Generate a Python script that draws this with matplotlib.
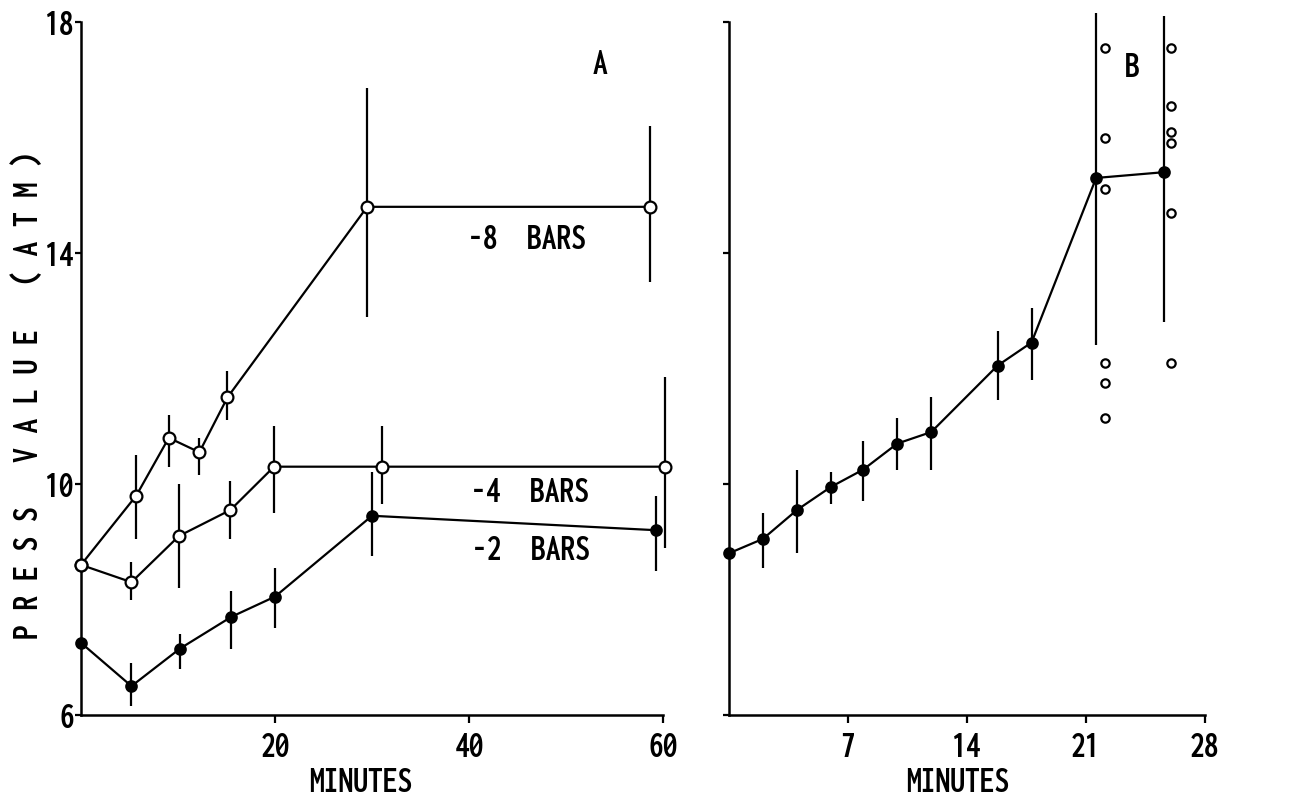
import matplotlib
matplotlib.use("Agg")
import matplotlib.pyplot as plt
from matplotlib import font_manager as fm
from matplotlib.textpath import TextPath

# pick a bold condensed face whose capitals are about as narrow as the scan's
def _w(f):
    return f.weight if isinstance(f.weight, int) else fm.weight_dict.get(f.weight, 400)

def _narrow(f):
    return ('Narrow' in f.name or 'Condensed' in f.name
            or f.stretch in ('condensed', 'semi-condensed', 'extra-condensed', 'ultra-condensed'))

def _shape(fname):
    p = fm.FontProperties(fname=fname, size=100)
    w = TextPath((0, 0), 'BRS8', prop=p).get_extents().width / 4
    h = TextPath((0, 0), 'H', prop=p).get_extents().height
    return w / h, h / 100.0

fonts = fm.fontManager.ttflist
cands = [f for f in fonts if _narrow(f) and 700 <= _w(f) <= 800 and f.style == 'normal']
scored = []
for f in cands:
    try:
        r = _shape(f.fname)[0]
        scored.append((abs(r - 0.62) + 0.001 * abs(_w(f) - 700), f.fname))
    except Exception:
        pass
if scored:
    FONT_FILE = min(scored)[1]
else:
    FONT_FILE = fm.findfont(fm.FontProperties(family='DejaVu Sans', weight='bold'))
CAP = _shape(FONT_FILE)[1]          # cap height per point of font size
FS = 23.0 / CAP * 72 / 100          # about 23 px capitals


def fp():
    return fm.FontProperties(fname=FONT_FILE, size=FS)


# Panel A: press value vs time at three water potentials
a8_x = [0, 5.7, 9.05, 12.2, 15.1, 29.5, 58.7]
a8_y = [8.6, 9.8, 10.8, 10.55, 11.5, 14.8, 14.8]
a8_lo = [8.6, 9.05, 10.3, 10.15, 11.1, 12.9, 13.5]
a8_hi = [8.6, 10.5, 11.2, 10.8, 11.95, 16.85, 16.2]

a4_x = [0, 5.2, 10.1, 15.4, 19.9, 31.0, 60.2]
a4_y = [8.6, 8.3, 9.1, 9.55, 10.3, 10.3, 10.3]
a4_lo = [8.6, 8.0, 8.2, 9.05, 9.5, 9.65, 8.9]
a4_hi = [8.6, 8.65, 10.0, 10.05, 11.0, 11.0, 11.85]

a2_x = [0, 5.2, 10.2, 15.5, 20.0, 30.0, 59.3]
a2_y = [7.25, 6.5, 7.15, 7.7, 8.05, 9.45, 9.2]
a2_lo = [7.25, 6.15, 6.8, 7.15, 7.5, 8.75, 8.5]
a2_hi = [7.25, 6.9, 7.4, 8.15, 8.55, 10.2, 9.8]

# Panel B: mean press value with individual readings at the end
b_x = [0, 2, 4, 6, 7.9, 9.9, 11.9, 15.8, 17.8, 21.6, 25.6]
b_y = [8.8, 9.05, 9.55, 9.95, 10.25, 10.7, 10.9, 12.05, 12.45, 15.3, 15.4]
b_lo = [8.8, 8.55, 8.8, 9.65, 9.7, 10.25, 10.25, 11.45, 11.8, 12.4, 12.8]
b_hi = [8.8, 9.5, 10.25, 10.2, 10.75, 11.15, 11.5, 12.65, 13.05, 18.15, 18.1]

ind1_x = 22.1
ind1_y = [17.55, 16.0, 15.1, 12.1, 11.75, 11.15]
ind2_x = 26.0
ind2_y = [17.55, 16.55, 16.1, 15.9, 14.7, 12.1]

fig = plt.figure(figsize=(12.92, 8.07), dpi=100)
axA = fig.add_axes([0.0627, 0.114, 0.4505, 0.8587])
axB = fig.add_axes([0.5642, 0.114, 0.3684, 0.8587])

LW = 1.6


def series(ax, x, y, lo, hi, filled):
    yerr = [[yy - l for yy, l in zip(y, lo)], [h - yy for yy, h in zip(y, hi)]]
    ax.errorbar(x, y, yerr=yerr, fmt='none', ecolor='black', elinewidth=LW,
                capsize=0, clip_on=False, zorder=2)
    ax.plot(x, y, color='black', lw=LW, marker='o', ms=8.5 if not filled else 7.5,
            mfc='black' if filled else 'white', mec='black', mew=1.6,
            clip_on=False, zorder=3)


series(axA, a8_x, a8_y, a8_lo, a8_hi, False)
series(axA, a4_x, a4_y, a4_lo, a4_hi, False)
series(axA, a2_x, a2_y, a2_lo, a2_hi, True)
series(axB, b_x, b_y, b_lo, b_hi, True)

axB.plot([ind1_x] * len(ind1_y), ind1_y, ls='none', marker='o', ms=6,
         mfc='white', mec='black', mew=1.6, clip_on=False)
axB.plot([ind2_x] * len(ind2_y), ind2_y, ls='none', marker='o', ms=6,
         mfc='white', mec='black', mew=1.6, clip_on=False)

axA.set_xlim(0, 60)
axA.set_xticks([20, 40, 60])
axB.set_xlim(0, 28)
axB.set_xticks([7, 14, 21, 28])

for ax in (axA, axB):
    ax.set_ylim(6, 18)
    ax.set_yticks([6, 10, 14, 18])
    for s in ('top', 'right'):
        ax.spines[s].set_visible(False)
    for s in ('left', 'bottom'):
        ax.spines[s].set_linewidth(1.8)
    ax.tick_params(axis='both', direction='out', length=6, width=1.6)
    ax.tick_params(axis='x', pad=6)
    ax.tick_params(axis='y', length=4, pad=1)
    for lbl in ax.get_xticklabels() + ax.get_yticklabels():
        lbl.set_fontproperties(fp())

axB.set_yticklabels([])

axA.text(53.5, 17.27, 'A', fontproperties=fp(), ha='center', va='center')
axB.text(23.7, 17.22, 'B', fontproperties=fp(), ha='center', va='center')
axA.text(46.0, 14.23, '-8  BARS', fontproperties=fp(), ha='center', va='center')
axA.text(46.3, 9.86, '-4  BARS', fontproperties=fp(), ha='center', va='center')
axA.text(46.4, 8.84, '-2  BARS', fontproperties=fp(), ha='center', va='center')

fig.text(0.279, 0.03, 'MINUTES', fontproperties=fp(), ha='center', va='center')
fig.text(0.741, 0.03, 'MINUTES', fontproperties=fp(), ha='center', va='center')
fig.text(0.022, 0.51, 'P R E S S   V A L U E   ( A T M )', fontproperties=fp(),
         ha='center', va='center', rotation=90)

fig.savefig('out.png', dpi=100)
